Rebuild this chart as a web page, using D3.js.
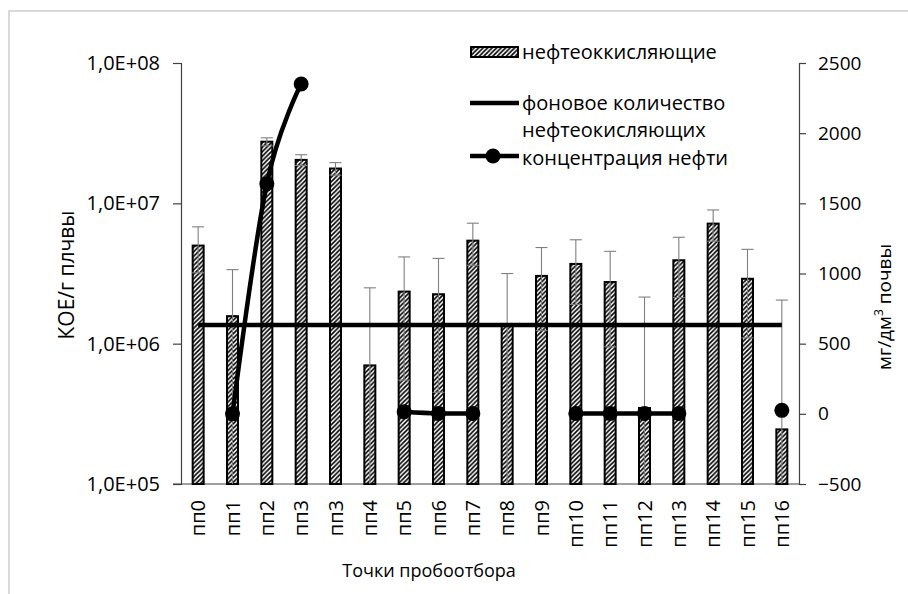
<!DOCTYPE html>
<html><head><meta charset="utf-8">
<script src="https://cdn.jsdelivr.net/npm/d3@7"></script>
<style>
html,body{margin:0;padding:0;background:#fff;}
svg{display:block;font-family:"Open Sans",sans-serif;}
</style></head>
<body>
<svg id="c" width="908" height="594"></svg>
<script>
const categories = ["пп0","пп1","пп2","пп3","пп3","пп4","пп5","пп6","пп7","пп8","пп9","пп10","пп11","пп12","пп13","пп14","пп15","пп16"];
const oxidizers = [5.0e6,1.57e6,2.75e7,2.04e7,1.77e7,7.0e5,2.35e6,2.25e6,5.42e6,1.36e6,3.04e6,3.7e6,2.75e6,3.48e5,3.93e6,7.17e6,2.9e6,2.45e5];
const oxidizersErr = [1.8e6,1.8e6,1.8e6,1.8e6,1.8e6,1.8e6,1.8e6,1.8e6,1.8e6,1.8e6,1.8e6,1.8e6,1.8e6,1.8e6,1.8e6,1.8e6,1.8e6,1.8e6];
const background = 1.36e6;
const oilConc = [null,0,1640,2350,null,null,15,3,3,null,null,3,3,3,3,null,null,25];
const leftTicks = [1e5,1e6,1e7,1e8];
const leftTickLabels = ["1,0E+05","1,0E+06","1,0E+07","1,0E+08"];
const rightTicks = [-500,0,500,1000,1500,2000,2500];
const legendLabels = ["нефтеоккисляющие","фоновое количество","нефтеокисляющих","концентрация нефти"];
const xTitle = "Точки пробоотбора";
const yLeftTitle = "КОЕ/г плчвы";

const svg = d3.select("#c");
const L = 181, R = 799, T = 63, B = 484;
const idx = categories.map((d,i)=>i);
const x = d3.scaleBand().domain(idx).range([L,R]).padding(0);
const yL = d3.scaleLog().domain([1e5,1e8]).range([B,T]);
const yR = d3.scaleLinear().domain([-500,2500]).range([B,T]);
const cx = i => x(i) + x.bandwidth()/2;
const bw = 11;

// frame border
svg.append("line").attr("x1",9).attr("x2",908).attr("y1",11).attr("y2",11).attr("stroke","#d9d9d9").attr("stroke-width",2);
svg.append("line").attr("x1",9).attr("x2",9).attr("y1",10).attr("y2",594).attr("stroke","#d9d9d9").attr("stroke-width",2);

// hatch pattern
const defs = svg.append("defs");
const pat = defs.append("pattern").attr("id","hatch").attr("patternUnits","userSpaceOnUse").attr("width",4.5).attr("height",4.5);
pat.append("rect").attr("width",4.5).attr("height",4.5).attr("fill","#fff");
pat.append("path").attr("d","M0,4.5 L4.5,0 M-1,1 L1,-1 M3.5,5.5 L5.5,3.5").attr("stroke","#000").attr("stroke-width",1.6);

// axes
const axL = d3.axisLeft(yL).tickValues(leftTicks).tickFormat((d,i)=>leftTickLabels[i]).tickSize(8).tickPadding(13);
const gL = svg.append("g").attr("transform",`translate(${L},0)`).call(axL);
const axR = d3.axisRight(yR).tickValues(rightTicks).tickSize(7).tickPadding(12).tickFormat(d3.format("d"));
const gR = svg.append("g").attr("transform",`translate(${R},0)`).call(axR);
[gL,gR].forEach(g=>{
  g.select(".domain").attr("stroke","#404040").attr("stroke-width",1.2);
  g.selectAll(".tick line").attr("stroke","#404040").attr("stroke-width",1.2);
  g.selectAll(".tick text").attr("font-size",19).attr("fill","#000").attr("font-family","'Open Sans',sans-serif");
});
gL.selectAll(".tick text").attr("font-size",20);
const axB = d3.axisBottom(x).tickSize(0).tickFormat(i=>categories[i]);
const gB = svg.append("g").attr("transform",`translate(0,${B})`).call(axB);
gB.select(".domain").attr("stroke","#404040").attr("stroke-width",1.2).attr("d",`M${L-8},0H${R}`);
gB.selectAll(".tick text").attr("font-size",20).attr("fill","#000").attr("font-family","'Open Sans',sans-serif")
  .attr("text-anchor","end").attr("transform","rotate(-90)").attr("x",-16).attr("y",0).attr("dy","0.36em");

// bars
svg.append("g").selectAll("rect").data(oxidizers).join("rect")
  .attr("x",(d,i)=>cx(i)-bw/2).attr("width",bw)
  .attr("y",d=>yL(d)).attr("height",d=>B-yL(d))
  .attr("fill","url(#hatch)").attr("stroke","#000").attr("stroke-width",2);

// error bars
const eg = svg.append("g").attr("stroke","#7f7f7f").attr("stroke-width",1.1);
oxidizers.forEach((v,i)=>{
  const up = v + oxidizersErr[i], lo = v - oxidizersErr[i];
  const yu = yL(up), yl = lo>1e5 ? yL(lo) : B;
  eg.append("line").attr("x1",cx(i)).attr("x2",cx(i)).attr("y1",yu).attr("y2",yl);
  eg.append("line").attr("x1",cx(i)-6).attr("x2",cx(i)+6).attr("y1",yu).attr("y2",yu);
  if (lo>1e5) eg.append("line").attr("x1",cx(i)-6).attr("x2",cx(i)+6).attr("y1",yl).attr("y2",yl);
});

// background line
svg.append("line").attr("x1",cx(0)).attr("x2",cx(categories.length-1))
  .attr("y1",yL(background)).attr("y2",yL(background)).attr("stroke","#000").attr("stroke-width",4.5);

// oil line
const line = d3.line().defined(d=>d!=null).x((d,i)=>cx(i)).y(d=>yR(d)).curve(d3.curveCatmullRom.alpha(0));
svg.append("path").datum(oilConc).attr("d",line).attr("fill","none").attr("stroke","#000").attr("stroke-width",4.5);
svg.append("g").selectAll("circle").data(oilConc.map((v,i)=>({v,i})).filter(d=>d.v!=null)).join("circle")
  .attr("cx",d=>cx(d.i)).attr("cy",d=>yR(d.v)).attr("r",7.5).attr("fill","#000");

// legend
const lg = svg.append("g").attr("font-size",20);
lg.append("rect").attr("x",471).attr("y",47).attr("width",47).attr("height",10).attr("fill","url(#hatch)").attr("stroke","#000").attr("stroke-width",2);
lg.append("text").attr("x",522).attr("y",52).attr("dy","0.35em").text(legendLabels[0]);
lg.append("line").attr("x1",470).attr("x2",519).attr("y1",103).attr("y2",103).attr("stroke","#000").attr("stroke-width",4.5);
lg.append("text").attr("x",522).attr("y",103).attr("dy","0.35em").text(legendLabels[1]);
lg.append("text").attr("x",522).attr("y",130).attr("dy","0.35em").text(legendLabels[2]);
lg.append("line").attr("x1",470).attr("x2",519).attr("y1",156).attr("y2",156).attr("stroke","#000").attr("stroke-width",4.5);
lg.append("circle").attr("cx",493).attr("cy",156).attr("r",7.5).attr("fill","#000");
lg.append("text").attr("x",522).attr("y",157.5).attr("dy","0.35em").text(legendLabels[3]);

// titles
svg.append("text").attr("x",429).attr("y",571).attr("dy","0.35em").attr("text-anchor","middle").attr("font-size",18).text(xTitle);
svg.append("text").attr("transform","translate(67,275) rotate(-90)").attr("dy","0.35em").attr("text-anchor","middle").attr("font-size",21).text(yLeftTitle);
const rt = svg.append("text").attr("transform","translate(884,307) rotate(-90)").attr("dy","0.35em").attr("text-anchor","middle").attr("font-size",19);
rt.append("tspan").text("мг/дм");
rt.append("tspan").attr("font-size",12).attr("dy","-0.6em").text("3");
rt.append("tspan").attr("dy","0.4em").text(" почвы");
</script>
</body></html>
